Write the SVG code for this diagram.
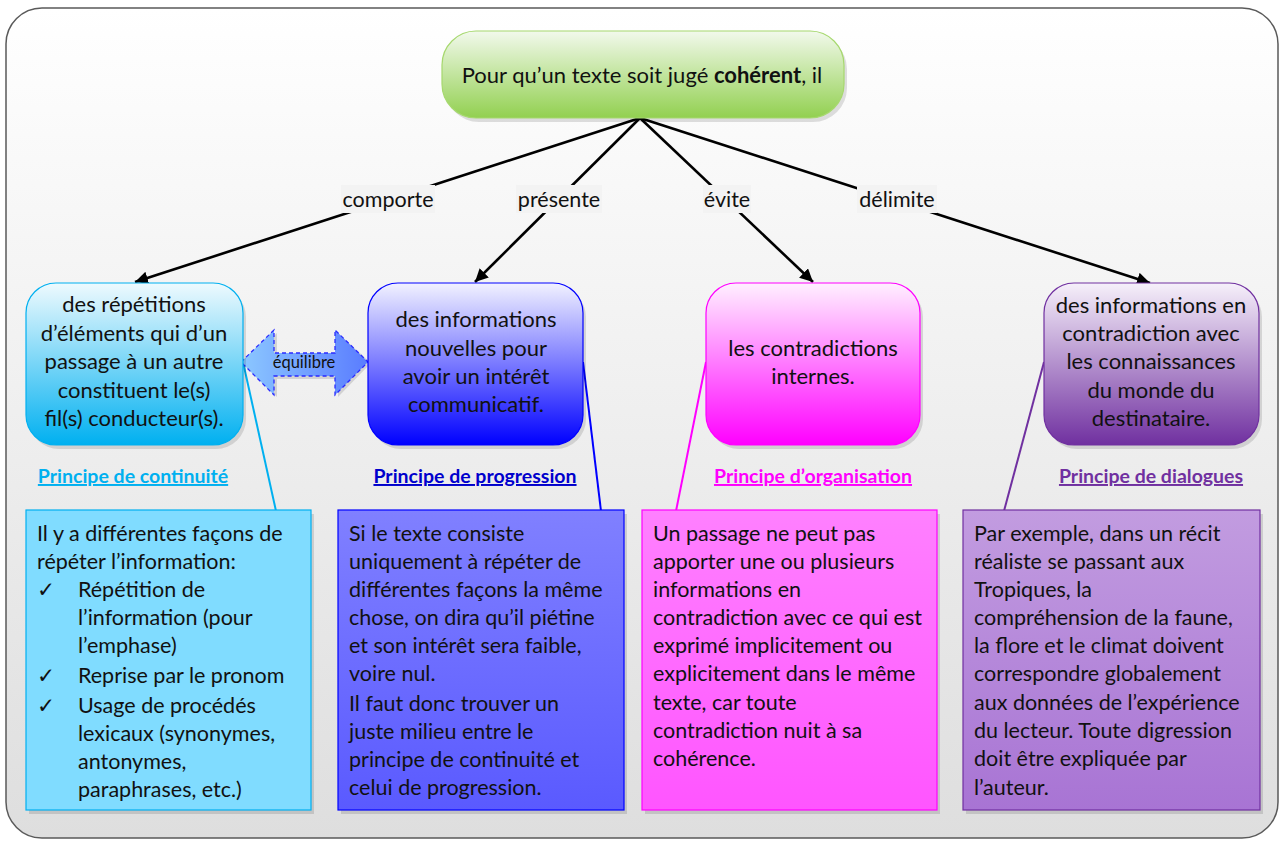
<svg xmlns="http://www.w3.org/2000/svg" width="1280" height="841" viewBox="0 0 1280 841">
<defs>
<linearGradient id="bg" x1="0" y1="0" x2="0" y2="1"><stop offset="0" stop-color="#ffffff"/><stop offset="1" stop-color="#dedede"/></linearGradient>
<linearGradient id="gGreen" x1="0" y1="0" x2="0" y2="1"><stop offset="0" stop-color="#f2f9ec"/><stop offset="1" stop-color="#92d050"/></linearGradient>
<linearGradient id="gCyan" x1="0" y1="0" x2="0" y2="1"><stop offset="0" stop-color="#eefafe"/><stop offset="1" stop-color="#00b0f0"/></linearGradient>
<linearGradient id="gBlue" x1="0" y1="0" x2="0" y2="1"><stop offset="0" stop-color="#f2f2ff"/><stop offset="1" stop-color="#0000ff"/></linearGradient>
<linearGradient id="gMag" x1="0" y1="0" x2="0" y2="1"><stop offset="0" stop-color="#fff0ff"/><stop offset="1" stop-color="#ff00ff"/></linearGradient>
<linearGradient id="gPur" x1="0" y1="0" x2="0" y2="1"><stop offset="0" stop-color="#f6f0fa"/><stop offset="1" stop-color="#7030a0"/></linearGradient>
<linearGradient id="gBlueBox" x1="0" y1="0" x2="0" y2="1"><stop offset="0" stop-color="#8080ff"/><stop offset="1" stop-color="#5a5aff"/></linearGradient>
<linearGradient id="gMagBox" x1="0" y1="0" x2="0" y2="1"><stop offset="0" stop-color="#ff80ff"/><stop offset="1" stop-color="#ff55ff"/></linearGradient>
<linearGradient id="gPurBox" x1="0" y1="0" x2="0" y2="1"><stop offset="0" stop-color="#c29ce0"/><stop offset="1" stop-color="#a874d4"/></linearGradient>
<linearGradient id="gEq" x1="0" y1="0" x2="1" y2="0"><stop offset="0" stop-color="#8cc8ff"/><stop offset="1" stop-color="#5a7cff"/></linearGradient>
<marker id="arr" viewBox="0 0 10 10" refX="10" refY="5" markerWidth="5" markerHeight="5" orient="auto" markerUnits="strokeWidth"><path d="M0,0 L10,5 L0,10 z" fill="#000"/></marker>
</defs>
<style>
text{font-family:Lato,"DejaVu Sans",sans-serif;fill:#111;}
.n{font-size:22px;text-anchor:middle;}
.b{font-size:21.5px;}
.lbl{font-size:21.5px;text-anchor:middle;}
.pr{font-size:19.5px;font-weight:bold;text-anchor:middle;text-decoration:underline;}
.sh{fill:#000;opacity:0.12;}
.conn{stroke:#000;stroke-width:2.6;fill:none;}
</style>
<rect x="6" y="8" width="1272" height="830" rx="36" fill="url(#bg)" stroke="#5a5a5a" stroke-width="1.5"/>

<g id="connectors">
<line class="conn" x1="640" y1="118" x2="135" y2="282" marker-end="url(#arr)"/>
<line class="conn" x1="640" y1="118" x2="475" y2="282" marker-end="url(#arr)"/>
<line class="conn" x1="640" y1="118" x2="813" y2="282" marker-end="url(#arr)"/>
<line class="conn" x1="640" y1="118" x2="1150" y2="283" marker-end="url(#arr)"/>
<line x1="243" y1="362" x2="276" y2="511" stroke="#00b0f0" stroke-width="2"/>
<line x1="583" y1="362" x2="601" y2="511" stroke="#0000ff" stroke-width="2"/>
<line x1="706" y1="362" x2="676" y2="511" stroke="#ff00ff" stroke-width="2"/>
<line x1="1044" y1="362" x2="1004" y2="511" stroke="#7030a0" stroke-width="2"/>
<g id="lbl-comporte"><rect x="341" y="185" width="94" height="28" fill="#f3f3f3"/><text class="lbl" x="388" y="207">comporte</text></g>
<g id="lbl-presente"><rect x="516" y="185" width="86" height="28" fill="#f3f3f3"/><text class="lbl" x="559" y="207">présente</text></g>
<g id="lbl-evite"><rect x="703" y="185" width="48" height="28" fill="#f3f3f3"/><text class="lbl" x="727" y="207">évite</text></g>
<g id="lbl-delimite"><rect x="857" y="185" width="80" height="28" fill="#f3f3f3"/><text class="lbl" x="897" y="207">délimite</text></g>
<g id="equilibre">
<path d="M244,363 L277,333 L277,356 L338,356 L338,333 L371,363 L338,397 L338,379 L277,379 L277,397 Z" class="sh"/>
<path d="M241,362 L274,330 L274,353 L335,353 L335,330 L368,362 L335,395 L335,376 L274,376 L274,395 Z" fill="url(#gEq)" stroke="#2a2aff" stroke-width="1.3" stroke-dasharray="4,3"/>
<text x="304" y="368" font-size="16.5" text-anchor="middle">équilibre</text>
</g>
</g>

<g id="root">
<rect x="445" y="35" width="402" height="87" rx="34" class="sh"/>
<rect x="442" y="31" width="402" height="87" rx="34" fill="url(#gGreen)" stroke="#a6d86e" stroke-width="1.2"/>
<text x="642" y="83" font-size="22" text-anchor="middle">Pour qu’un texte soit jugé <tspan font-weight="bold">cohérent</tspan>, il</text>
</g>

<g id="n-continuite">
<rect x="29" y="287" width="217" height="162" rx="30" class="sh"/>
<rect x="26" y="283" width="217" height="162" rx="30" fill="url(#gCyan)" stroke="#00b0f0" stroke-width="1.2"/>
<text class="n" x="134" y="312">des répétitions</text>
<text class="n" x="134" y="341">d’éléments qui d’un</text>
<text class="n" x="134" y="369">passage à un autre</text>
<text class="n" x="134" y="398">constituent le(s)</text>
<text class="n" x="134" y="426">fil(s) conducteur(s).</text>
<text class="pr" x="133" y="483" style="fill:#00b0f0">Principe de continuité</text>
</g>

<g id="n-progression">
<rect x="371" y="287" width="215" height="162" rx="30" class="sh"/>
<rect x="368" y="283" width="215" height="162" rx="30" fill="url(#gBlue)" stroke="#0000ff" stroke-width="1.2"/>
<text class="n" x="476" y="327">des informations</text>
<text class="n" x="476" y="356">nouvelles pour</text>
<text class="n" x="476" y="384">avoir un intérêt</text>
<text class="n" x="476" y="412">communicatif.</text>
<text class="pr" x="475" y="483" style="fill:#0000cc">Principe de progression</text>
</g>

<g id="n-organisation">
<rect x="709" y="287" width="214" height="162" rx="30" class="sh"/>
<rect x="706" y="283" width="214" height="162" rx="30" fill="url(#gMag)" stroke="#ff00ff" stroke-width="1.2"/>
<text class="n" x="813" y="356">les contradictions</text>
<text class="n" x="813" y="384">internes.</text>
<text class="pr" x="813" y="483" style="fill:#ff00ff">Principe d’organisation</text>
</g>

<g id="n-dialogues">
<rect x="1047" y="287" width="215" height="162" rx="30" class="sh"/>
<rect x="1044" y="283" width="215" height="162" rx="30" fill="url(#gPur)" stroke="#7030a0" stroke-width="1.2"/>
<text class="n" x="1151" y="313">des informations en</text>
<text class="n" x="1151" y="341">contradiction avec</text>
<text class="n" x="1151" y="369">les connaissances</text>
<text class="n" x="1151" y="398">du monde du</text>
<text class="n" x="1151" y="426">destinataire.</text>
<text class="pr" x="1151" y="483" style="fill:#7030a0">Principe de dialogues</text>
</g>

<g id="box-continuite">
<rect x="29" y="514" width="285" height="300" class="sh"/>
<rect x="26" y="510" width="285" height="300" fill="#80dcff" stroke="#00b0f0" stroke-width="1.2"/>
<text class="b" x="37" y="541">Il y a différentes façons de</text>
<text class="b" x="37" y="569">répéter l’information:</text>
<text class="b" x="37" y="597">✓</text><text class="b" x="78" y="597">Répétition de</text>
<text class="b" x="78" y="625">l’information (pour</text>
<text class="b" x="78" y="653">l’emphase)</text>
<text class="b" x="37" y="683">✓</text><text class="b" x="78" y="683">Reprise par le pronom</text>
<text class="b" x="37" y="713">✓</text><text class="b" x="78" y="713">Usage de procédés</text>
<text class="b" x="78" y="741">lexicaux (synonymes,</text>
<text class="b" x="78" y="769">antonymes,</text>
<text class="b" x="78" y="797">paraphrases, etc.)</text>
</g>

<g id="box-progression">
<rect x="341" y="514" width="286" height="300" class="sh"/>
<rect x="338" y="510" width="286" height="300" fill="url(#gBlueBox)" stroke="#0000ff" stroke-width="1.2"/>
<text class="b" x="349" y="541">Si le texte consiste</text>
<text class="b" x="349" y="569">uniquement à répéter de</text>
<text class="b" x="349" y="597">différentes façons la même</text>
<text class="b" x="349" y="625">chose, on dira qu’il piétine</text>
<text class="b" x="349" y="653">et son intérêt sera faible,</text>
<text class="b" x="349" y="681">voire nul.</text>
<text class="b" x="349" y="711">Il faut donc trouver un</text>
<text class="b" x="349" y="739">juste milieu entre le</text>
<text class="b" x="349" y="767">principe de continuité et</text>
<text class="b" x="349" y="795">celui de progression.</text>
</g>

<g id="box-organisation">
<rect x="645" y="514" width="295" height="300" class="sh"/>
<rect x="642" y="510" width="295" height="300" fill="url(#gMagBox)" stroke="#ff00ff" stroke-width="1.2"/>
<text class="b" x="653" y="541">Un passage ne peut pas</text>
<text class="b" x="653" y="569">apporter une ou plusieurs</text>
<text class="b" x="653" y="597">informations en</text>
<text class="b" x="653" y="625">contradiction avec ce qui est</text>
<text class="b" x="653" y="653">exprimé implicitement ou</text>
<text class="b" x="653" y="681">explicitement dans le même</text>
<text class="b" x="653" y="710">texte, car toute</text>
<text class="b" x="653" y="738">contradiction nuit à sa</text>
<text class="b" x="653" y="766">cohérence.</text>
</g>

<g id="box-dialogues">
<rect x="966" y="514" width="297" height="300" class="sh"/>
<rect x="963" y="510" width="297" height="300" fill="url(#gPurBox)" stroke="#7030a0" stroke-width="1.2"/>
<text class="b" x="974" y="541">Par exemple, dans un récit</text>
<text class="b" x="974" y="569">réaliste se passant aux</text>
<text class="b" x="974" y="597">Tropiques, la</text>
<text class="b" x="974" y="625">compréhension de la faune,</text>
<text class="b" x="974" y="653">la flore et le climat doivent</text>
<text class="b" x="974" y="681">correspondre globalement</text>
<text class="b" x="974" y="710">aux données de l’expérience</text>
<text class="b" x="974" y="738">du lecteur. Toute digression</text>
<text class="b" x="974" y="766">doit être expliquée par</text>
<text class="b" x="974" y="795">l’auteur.</text>
</g>
</svg>
